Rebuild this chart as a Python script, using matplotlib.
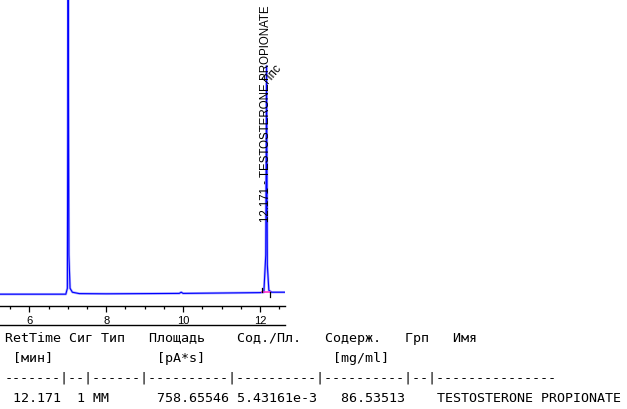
import matplotlib
matplotlib.use("Agg")
import matplotlib.pyplot as plt
from matplotlib.lines import Line2D
from matplotlib.ticker import MultipleLocator

# ---- data ----
time_min = [5.22, 6.95, 6.99, 7.01, 7.03, 7.06, 7.12, 7.30, 8.00, 9.00, 9.90, 9.95,
            10.00, 11.00, 12.00, 12.10, 12.15, 12.171, 12.19, 12.23, 12.30, 12.65]
signal_pa = [0.0, 0.0, 3.0, 160.0, 20.0, 3.0, 1.0, 0.3, 0.2, 0.3, 0.4, 1.0,
             0.4, 0.6, 0.8, 1.0, 20.0, 116.0, 15.0, 2.0, 1.0, 1.0]

peak_rt = 12.171
peak_name = "TESTOSTERONE PROPIONATE"
peak_flag = "Ппс"
integ_start = 12.04
integ_end = 12.25
integ_level = 1.0

x_ticks_major = [6, 8, 10, 12]

table_header = ["RetTime", "Сиг", "Тип", "Площадь", "Сод./Пл.", "Содерж.", "Грп", "Имя"]
table_units = ["[мин]", "[pA*s]", "[mg/ml]"]
row_rettime = "12.171"
row_sig = "1"
row_type = "MM"
row_area = "758.65546"
row_amt_area = "5.43161e-3"
row_amount = "86.53513"
row_name = "TESTOSTERONE PROPIONATE"

# ---- figure ----
W, H = 627, 410
fig = plt.figure(figsize=(W / 100, H / 100), dpi=100)
fig.patch.set_facecolor("white")

ax_bottom_px = 307
ax_right_px = 285
ax = fig.add_axes([0, (H - ax_bottom_px) / H, ax_right_px / W, ax_bottom_px / H])
ax.set_xlim(5.238, 12.65)
ax.set_ylim(-6, 150)

ax.plot(time_min, signal_pa, color="#b0b0ff", lw=1.8, zorder=2)
ax.plot(time_min, signal_pa, color="#0000ff", lw=0.8, zorder=3)

# integration baseline and markers
ax.plot([integ_start, integ_end], [integ_level, integ_level], color="#ff33cc", lw=1.2, zorder=4)
ax.plot([integ_start, integ_start], [integ_level, integ_level + 2.2], color="black", lw=0.9, zorder=4)
ax.plot([integ_end, integ_end], [integ_level, integ_level - 2.4], color="black", lw=0.9, zorder=4)

# peak annotations
ax.text(peak_rt - 0.02, 0.277, f"{peak_rt:.3f} - {peak_name}", transform=ax.get_xaxis_transform(),
        rotation=90, ha="center", va="bottom", fontsize=8.3, family="Liberation Sans",
        color="black", zorder=5, clip_on=False)
ax.text(peak_rt + 0.03, 0.728, peak_flag, transform=ax.get_xaxis_transform(),
        rotation=50, rotation_mode="anchor", ha="left", va="baseline", fontsize=8.5,
        family="Liberation Sans", color="black", zorder=5)

for s in ["left", "right", "top"]:
    ax.spines[s].set_visible(False)
ax.spines["bottom"].set_color("black")
ax.spines["bottom"].set_linewidth(1.0)
ax.set_yticks([])
ax.set_xticks(x_ticks_major)
ax.set_xticklabels([str(t) for t in x_ticks_major], fontsize=8, family="Liberation Sans")
ax.xaxis.set_minor_locator(MultipleLocator(0.5))
ax.tick_params(axis="x", which="major", length=4.0, width=0.9, pad=2.5, color="black")
ax.tick_params(axis="x", which="minor", length=2.0, width=0.9, color="black")
ax.patch.set_alpha(0)

# line under the tick labels
fig.add_artist(Line2D([0, ax_right_px / W], [(H - 326) / H, (H - 326) / H],
                      transform=fig.transFigure, color="black", lw=1.0))

# ---- text table ----
def col(s, width):
    return s.ljust(width)

line1 = (col(table_header[0], 8) + col(table_header[1], 4) + col(table_header[2], 6)
         + col(table_header[3], 11) + col(table_header[4], 11) + col(table_header[5], 10)
         + col(table_header[6], 6) + table_header[7])
line2 = " " + col(table_units[0], 18) + col(table_units[1], 22) + table_units[2]
line3 = "-------|--|------|----------|----------|----------|--|---------------"
line4 = (" " + col(row_rettime, 8) + col(row_sig, 2) + col(row_type, 8)
         + col(row_area, 10) + col(row_amt_area, 13) + col(row_amount, 12) + row_name)

mono = dict(family="DejaVu Sans Mono", fontsize=9.6, color="black", ha="left", va="baseline")
x0 = 5 / W
for txt, ybase in [(line1, 342), (line2, 362), (line3, 382), (line4, 402)]:
    fig.text(x0, (H - ybase) / H, txt, **mono)

fig.savefig("out.png", dpi=100, facecolor="white")
